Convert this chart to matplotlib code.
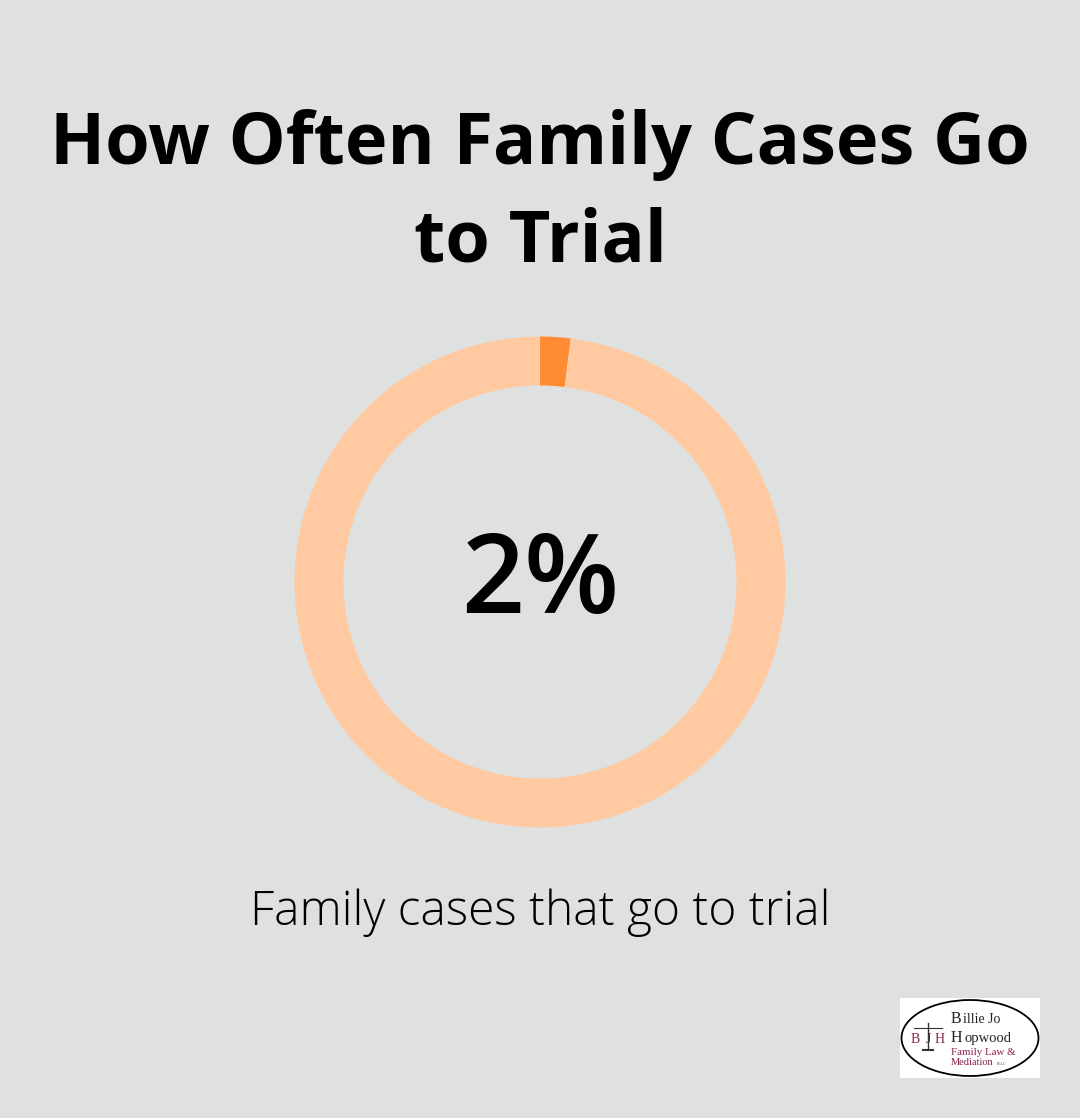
import numpy as np
import matplotlib
matplotlib.use("Agg")
import matplotlib.pyplot as plt
from matplotlib.patches import Ellipse, Rectangle

# data
values = [2, 98]
colors = ["#ff8c33", "#ffcaa1"]
title_lines = ["How Often Family Cases Go", "to Trial"]
center_label = "2%"
caption = "Family cases that go to trial"
bg = "#dfe1e0"
maroon = "#8a1f4d"

W, H = 1080, 1118
fig = plt.figure(figsize=(W / 100, H / 100), dpi=100, facecolor=bg)

# full figure axes in pixels for text and logo
ax = fig.add_axes([0, 0, 1, 1])
ax.set_xlim(0, W)
ax.set_ylim(H, 0)
ax.axis("off")

ax.text(540, 145, title_lines[0], ha="center", va="center", family="Open Sans", fontweight="bold", fontsize=51.8, color="black")
ax.text(540, 243, title_lines[1], ha="center", va="center", family="Open Sans", fontweight="bold", fontsize=51.8, color="black")
ax.text(540, 913, caption, ha="center", va="center", family="Open Sans", fontweight="light", fontsize=34.5, color="black")

# donut
R = 245.5
cx, cy = 540, 582
pie_ax = fig.add_axes([(cx - R) / W, 1 - (cy + R) / H, 2 * R / W, 2 * R / H])
pie_ax.pie(values, colors=colors, startangle=90, counterclock=False, radius=1,
           wedgeprops=dict(width=49 / R, linewidth=0))
pie_ax.set_xlim(-1, 1)
pie_ax.set_ylim(-1, 1)
pie_ax.text(0, -3 / R, center_label, ha="center", va="center", family="Open Sans", fontweight="semibold", fontsize=79.5, color="black")

# logo
def logo_text(x, y, s, size, color="#222222"):
    ax.text(x, y, s, family="Liberation Serif", fontsize=size, color=color, zorder=5, va="baseline")

ax.add_patch(Rectangle((900, 998), 140, 80, fc="white", ec="none", zorder=3))
ax.add_patch(Ellipse((970, 1038), 137, 76, fc="white", ec="black", lw=1.3, zorder=4))
logo_text(951, 1023, "B", 11.5)
logo_text(963, 1023, "illie Jo", 10)
logo_text(951, 1042, "H", 11.5)
logo_text(964.5, 1042, "opwood", 10.5)
logo_text(951, 1055, "Family Law &", 7.8, maroon)
logo_text(951, 1065, "Mediation", 7.5, maroon)
logo_text(997, 1065, "PLLC", 3, maroon)
logo_text(911, 1043, "B", 10, maroon)
logo_text(935, 1043, "H", 10, maroon)
logo_text(926, 1043, "J", 10, maroon)

# scales in the logo
ax.plot([928, 928], [1023, 1049], color="#333333", lw=1, zorder=6)
ax.plot([914, 942], [1028, 1028], color="#333333", lw=0.8, zorder=6)
ax.plot([923, 933], [1050, 1050], color="#333333", lw=1.5, zorder=6)

fig.savefig("out.png", dpi=100, facecolor=bg)
